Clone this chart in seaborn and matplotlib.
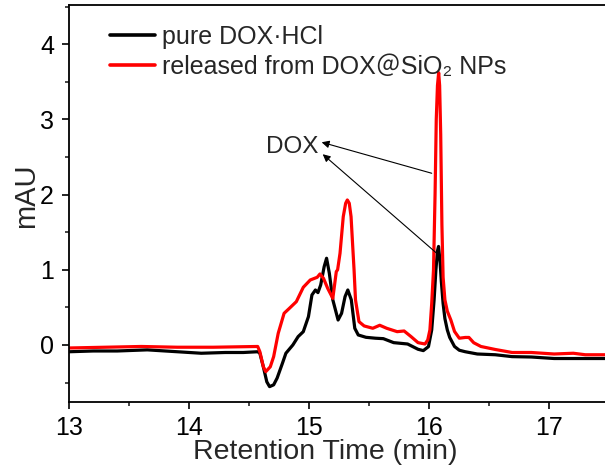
import numpy as np
import pandas as pd
import matplotlib
matplotlib.use('Agg')
import matplotlib.pyplot as plt
import seaborn as sns
from matplotlib.ticker import MultipleLocator

# chromatogram: retention time (min) vs signal (mAU)
pure_t = [13.00, 13.20, 13.40, 13.65, 13.80, 14.00, 14.10, 14.30, 14.45, 14.57,
          14.588, 14.617, 14.646, 14.669, 14.703, 14.732, 14.776, 14.805, 14.863,
          14.907, 14.95, 14.993, 15.022, 15.051, 15.072, 15.095, 15.124, 15.144,
          15.167, 15.196, 15.24, 15.269, 15.298, 15.321, 15.35, 15.379, 15.408,
          15.472, 15.55, 15.617, 15.703, 15.819, 15.906, 15.95, 15.993, 16.02,
          16.04, 16.055, 16.068, 16.077, 16.09, 16.10, 16.115, 16.13, 16.15,
          16.17, 16.21, 16.25, 16.30, 16.40, 16.55, 16.69, 16.85, 17.04, 17.20,
          17.47]
pure_mau = [-0.09, -0.08, -0.08, -0.065, -0.08, -0.10, -0.11, -0.10, -0.10, -0.09,
            -0.11, -0.29, -0.49, -0.554, -0.53, -0.44, -0.244, -0.11, 0.0,
            0.111, 0.177, 0.377, 0.665, 0.731, 0.696, 0.798, 1.042, 1.153,
            0.953, 0.60, 0.332, 0.421, 0.643, 0.731, 0.60, 0.222, 0.133,
            0.102, 0.09, 0.084, 0.031, 0.013, -0.057, -0.075, -0.022, 0.20,
            0.60, 1.00, 1.25, 1.31, 1.10, 0.85, 0.55, 0.35, 0.20,
            0.10, -0.02, -0.07, -0.09, -0.12, -0.13, -0.155, -0.16, -0.18, -0.18,
            -0.18]

rel_t = [13.00, 13.30, 13.60, 13.90, 14.20, 14.57, 14.588, 14.617, 14.637,
         14.675, 14.703, 14.741, 14.79, 14.834, 14.892, 14.95, 15.008, 15.066,
         15.089, 15.118, 15.153, 15.196, 15.225, 15.236, 15.256, 15.283, 15.303,
         15.317, 15.333, 15.348, 15.362, 15.373, 15.385, 15.414, 15.457, 15.529,
         15.587, 15.645, 15.732, 15.79, 15.848, 15.906, 15.964, 15.987, 16.005,
         16.02, 16.035, 16.048, 16.058, 16.068, 16.078, 16.086, 16.095, 16.105,
         16.115, 16.13, 16.15, 16.18, 16.21, 16.25, 16.30, 16.33, 16.37, 16.43,
         16.55, 16.69, 16.85, 17.04, 17.20, 17.30, 17.47]
rel_mau = [-0.04, -0.03, -0.02, -0.03, -0.03, -0.02, -0.089, -0.29, -0.355,
           -0.29, -0.155, 0.155, 0.421, 0.487, 0.576, 0.767, 0.864, 0.90,
           0.944, 0.887, 0.754, 0.62, 0.975, 1.00, 1.219, 1.706, 1.884,
           1.928, 1.884, 1.706, 1.307, 1.00, 0.60, 0.31, 0.253, 0.222,
           0.262, 0.222, 0.177, 0.186, 0.111, 0.031, 0.013, 0.066, 0.20,
           0.55, 1.00, 2.00, 3.00, 3.45, 3.62, 3.45, 2.80, 1.60,
           0.90, 0.60, 0.45, 0.33, 0.18, 0.09, 0.10, 0.10, 0.03, -0.02,
           -0.06, -0.10, -0.10, -0.12, -0.11, -0.13, -0.13]

labels = ["pure DOX\u00b7HCl", "released from DOX\uff20SiO\u2082 NPs"]
colors = ["black", "#ff0000"]

df = pd.concat([
    pd.DataFrame({"t": pure_t, "mau": pure_mau, "sample": labels[0]}),
    pd.DataFrame({"t": rel_t, "mau": rel_mau, "sample": labels[1]}),
], ignore_index=True)

sns.set_style("ticks")
plt.rcParams['font.family'] = ['Liberation Sans', 'Noto Sans CJK SC', 'DejaVu Sans']

fig = plt.figure(figsize=(6.05, 4.72), dpi=100)
ax = fig.add_axes([0.1145, 0.1477, 0.8855, 0.8417])

sns.lineplot(data=df, x="t", y="mau", hue="sample", palette=colors,
             hue_order=labels, sort=False, estimator=None, linewidth=2.3, ax=ax)

ax.set_xlim(13, 17.464)
ax.set_ylim(-0.762, 4.52)
ax.xaxis.set_major_locator(MultipleLocator(1))
ax.xaxis.set_minor_locator(MultipleLocator(0.5))
ax.yaxis.set_major_locator(MultipleLocator(1))
ax.yaxis.set_minor_locator(MultipleLocator(0.5))
ax.tick_params(which='major', direction='out', length=5, width=1.2, labelsize=18,
               colors='black')
ax.tick_params(which='minor', direction='out', length=3, width=1.2)
ax.tick_params(axis='x', pad=5)
ax.tick_params(axis='y', pad=6)
for s in ['left', 'bottom', 'top']:
    ax.spines[s].set_linewidth(1.3)
    ax.spines[s].set_color('black')
ax.spines['right'].set_visible(False)

ax.set_xlabel("Retention Time (min)", fontsize=20.5, labelpad=0)
ax.set_ylabel("mAU", fontsize=21)
ax.yaxis.set_label_coords(-0.055, 0.52)
ax.xaxis.set_label_coords(0.478, -0.093)

ax.text(15.074, 2.633, "DOX", ha='right', va='center', fontsize=17.5)
arrow = dict(arrowstyle='-|>', color='black', lw=0.8, mutation_scale=11,
             shrinkA=0, shrinkB=0)
ax.annotate("", xy=(15.103, 2.695), xytext=(16.02, 2.283), arrowprops=arrow)
ax.annotate("", xy=(15.112, 2.536), xytext=(16.062, 1.219), arrowprops=arrow)

leg = ax.legend(loc='upper left', bbox_to_anchor=(0.076, 0.95), frameon=False,
                fontsize=18, handlelength=1.8, handletextpad=0.3,
                labelspacing=0.25, borderpad=0, borderaxespad=0)
for line in leg.get_lines():
    line.set_linewidth(2.6)

fig.savefig("out.png", dpi=100)
